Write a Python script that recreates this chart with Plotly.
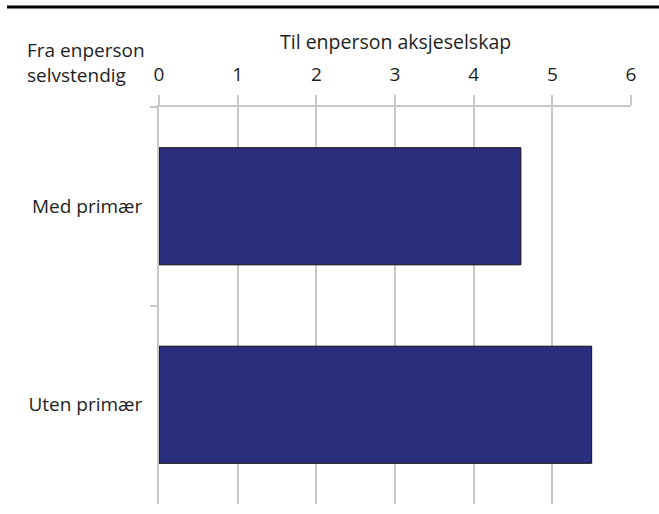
import plotly.graph_objects as go

categories = ["Med primær", "Uten primær"]
values = [4.6, 5.5]
x_ticks = [0, 1, 2, 3, 4, 5, 6]
x_title = "Til enperson aksjeselskap"
y_title = "Fra enperson<br>selvstendig"

L, R, T, B = 159, 28, 107, 10
W, H = 659, 514
pw = W - L - R
ph = H - T - B

def px(xp):
    return (xp - L) / pw

def py(yp):
    return (H - B - yp) / ph

fig = go.Figure(go.Bar(
    y=categories, x=values, orientation="h",
    marker=dict(color="#2A2E7C", line=dict(color="#111111", width=1)),
    width=0.59,
))

font = dict(family="Open Sans, Noto Sans, sans-serif", size=19, color="#1E1E1E")
title_font = dict(font, size=19.5)

fig.update_layout(
    width=W, height=H,
    margin=dict(l=L, r=R, t=T, b=B),
    paper_bgcolor="white", plot_bgcolor="white",
    font=font, showlegend=False,
    xaxis=dict(
        side="top", range=[0, 6], tickvals=x_ticks, ticktext=[str(t) for t in x_ticks],
        showgrid=True, gridcolor="#C8C8C8", gridwidth=2,
        showline=True, linecolor="#C8C8C8", linewidth=2,
        ticks="outside", ticklen=10, tickwidth=2, tickcolor="#C8C8C8",
        zeroline=False, tickfont=font, ticklabelstandoff=6,
    ),
    yaxis=dict(
        categoryorder="array", categoryarray=categories, autorange="reversed",
        tickson="boundaries", ticks="outside", ticklen=7, tickwidth=2, tickcolor="#C8C8C8",
        showline=True, linecolor="#C8C8C8", linewidth=2, showgrid=False,
        tickfont=font, ticklabelstandoff=11,
    ),
    annotations=[
        dict(text=x_title, xref="paper", yref="paper", x=0.5, y=py(42),
             xanchor="center", yanchor="middle", showarrow=False, font=title_font),
        dict(text=y_title, xref="paper", yref="paper", x=px(25), y=py(62),
             xanchor="left", yanchor="middle", align="left", showarrow=False, font=font),
    ],
    shapes=[
        dict(type="line", xref="paper", yref="paper", x0=px(7), x1=px(659), y0=py(7), y1=py(7),
             line=dict(color="black", width=3)),
    ],
)

fig.write_html("out.html", config={"displayModeBar": False},
               post_script="document.body.style.margin='0';document.body.style.overflow='hidden';")
